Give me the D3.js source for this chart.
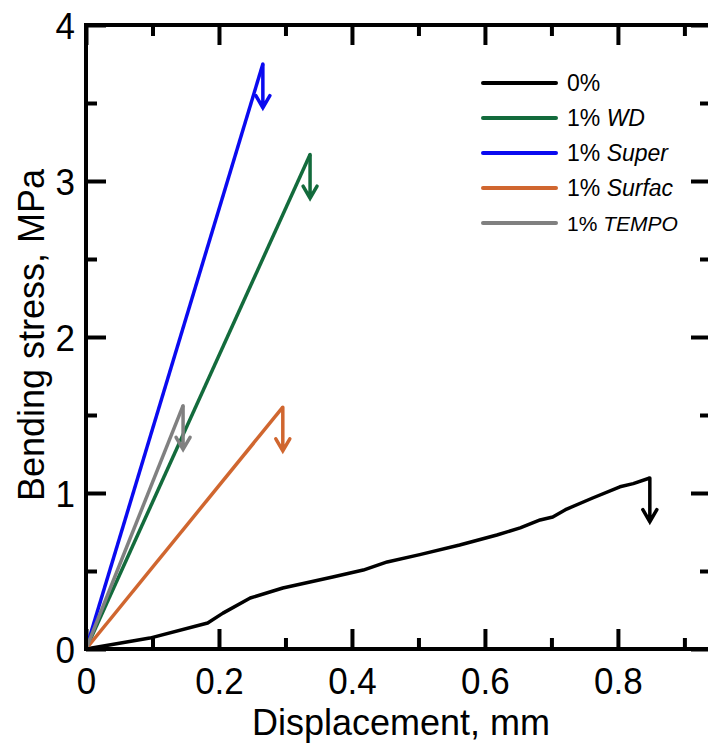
<!DOCTYPE html>
<html><head><meta charset="utf-8">
<script src="https://cdn.jsdelivr.net/npm/d3@7"></script>
<style>body{margin:0;background:#fff}svg{display:block}text{font-family:"Liberation Sans",Arial,sans-serif}</style>
</head><body><svg id="c" width="708" height="747"></svg>
<script>
// ---- data ----
const seriesNames = ["0%", "1% WD", "1% Super", "1% Surfac", "1% TEMPO"];
const legendPlain = ["0%", "1% ", "1% ", "1% ", "1% "];
const legendItalic = ["", "WD", "Super", "Surfac", "TEMPO"];
const seriesColors = ["#000000", "#136b3c", "#0a0af0", "#d0662f", "#808080"];
const x0 = [0, 0.096, 0.183, 0.206, 0.247, 0.296, 0.371, 0.417, 0.453, 0.502, 0.562, 0.618, 0.653, 0.683, 0.702, 0.723, 0.762, 0.803, 0.823, 0.848];
const y0 = [0, 0.07, 0.167, 0.23, 0.327, 0.391, 0.462, 0.506, 0.558, 0.605, 0.667, 0.731, 0.776, 0.827, 0.846, 0.897, 0.968, 1.04, 1.06, 1.096];
const xWD = [0, 0.337], yWD = [0, 3.17];
const xSuper = [0, 0.266], ySuper = [0, 3.75];
const xSurfac = [0, 0.296], ySurfac = [0, 1.55];
const xTempo = [0, 0.146], yTempo = [0, 1.56];
const xMajor = [0, 0.2, 0.4, 0.6, 0.8];
const xMinor = [0.1, 0.3, 0.5, 0.7, 0.9];
const yMajor = [0, 1, 2, 3, 4];
const yMinor = [0.5, 1.5, 2.5, 3.5];
const arrowDrop = 0.28; // failure arrow length, MPa

const seriesX = [x0, xWD, xSuper, xSurfac, xTempo];
const seriesY = [y0, yWD, ySuper, ySurfac, yTempo];

// ---- chart ----
const svg = d3.select("#c");
const L = 86, R = 711, T = 25, B = 649;
const x = d3.scaleLinear().domain([0, 0.94]).range([L, R]);
const y = d3.scaleLinear().domain([0, 4]).range([B, T]);
const AX = 4, MAJ = 20, MIN = 11, FS = 35, SY = 1.05;

function styleAxis(g){ g.select(".domain").remove(); g.selectAll("line").attr("stroke","#000").attr("stroke-width",AX); }

// minor ticks
svg.append("g").attr("transform",`translate(0,${B})`).call(d3.axisBottom(x).tickValues(xMinor).tickSize(-MIN).tickFormat("")).call(styleAxis);
svg.append("g").attr("transform",`translate(0,${T})`).call(d3.axisTop(x).tickValues(xMinor).tickSize(-MIN).tickFormat("")).call(styleAxis);
svg.append("g").attr("transform",`translate(${L},0)`).call(d3.axisLeft(y).tickValues(yMinor).tickSize(-MIN).tickFormat("")).call(styleAxis);
svg.append("g").attr("transform",`translate(${R},0)`).call(d3.axisRight(y).tickValues(yMinor).tickSize(-MIN).tickFormat("")).call(styleAxis);
// major ticks
const gxb = svg.append("g").attr("transform",`translate(0,${B})`).call(d3.axisBottom(x).tickValues(xMajor).tickSize(-MAJ).tickFormat(d=>d3.format("")(d))).call(styleAxis);
svg.append("g").attr("transform",`translate(0,${T})`).call(d3.axisTop(x).tickValues(xMajor).tickSize(-MAJ).tickFormat("")).call(styleAxis);
const gyl = svg.append("g").attr("transform",`translate(${L},0)`).call(d3.axisLeft(y).tickValues(yMajor).tickSize(-MAJ).tickPadding(11).tickFormat(d3.format("d"))).call(styleAxis);
svg.append("g").attr("transform",`translate(${R},0)`).call(d3.axisRight(y).tickValues(yMajor).tickSize(-MAJ).tickFormat("")).call(styleAxis);
[gxb, gyl].forEach(g=>g.selectAll("text").attr("font-size",FS).attr("fill","#000").attr("font-family",'"Liberation Sans",Arial,sans-serif'));
gxb.selectAll("text").attr("y",0).attr("dy",0).attr("transform",`translate(0,45) scale(1,${SY})`);
gyl.selectAll("text").attr("y",0).attr("dy",0).attr("transform",`translate(0,${0.36*FS*SY}) scale(1,${SY})`);

// series
const line = d3.line().x(d=>x(d[0])).y(d=>y(d[1]));
seriesNames.forEach((n,i)=>{
  const pts = seriesX[i].map((v,j)=>[v, seriesY[i][j]]);
  const g = svg.append("g");
  g.append("path").attr("d", line(pts)).attr("fill","none").attr("stroke",seriesColors[i]).attr("stroke-width",3.5).attr("stroke-linejoin","round");
  const pk = pts[pts.length-1];
  const px = x(pk[0]), py = y(pk[1]), ty = y(pk[1]-arrowDrop);
  g.append("path").attr("d",`M${px},${py}L${px},${ty}M${px-7},${ty-12}L${px},${ty}L${px+7},${ty-12}`)
    .attr("fill","none").attr("stroke",seriesColors[i]).attr("stroke-width",3.5).attr("stroke-linejoin","miter").attr("stroke-linecap","round");
});

// frame
svg.append("path").attr("d",`M${L},${T}L${R},${T}L${R},${B}L${L},${B}Z`).attr("fill","none").attr("stroke","#000").attr("stroke-width",AX).attr("stroke-linejoin","miter");

// legend
const lg = svg.append("g");
seriesNames.forEach((n,i)=>{
  const ly = 83 + i*35;
  const fs = i === 4 ? 21 : 23;
  lg.append("line").attr("x1",483).attr("x2",556).attr("y1",ly).attr("y2",ly).attr("stroke",seriesColors[i]).attr("stroke-width",4).attr("stroke-linecap","round");
  const t = lg.append("text").attr("x",567).attr("y",ly).attr("dy","0.36em").attr("font-size",fs).attr("fill","#000");
  t.append("tspan").text(legendPlain[i]);
  if (legendItalic[i]) t.append("tspan").attr("font-style","italic").text(legendItalic[i]);
});

// axis titles
svg.append("text").attr("transform",`translate(401,735) scale(1,${SY})`).attr("text-anchor","middle").attr("font-size",36).text("Displacement, mm");
svg.append("text").attr("transform",`translate(44,335) rotate(-90) scale(1,${SY})`).attr("text-anchor","middle").attr("font-size",36).text("Bending stress, MPa");
</script></body></html>
